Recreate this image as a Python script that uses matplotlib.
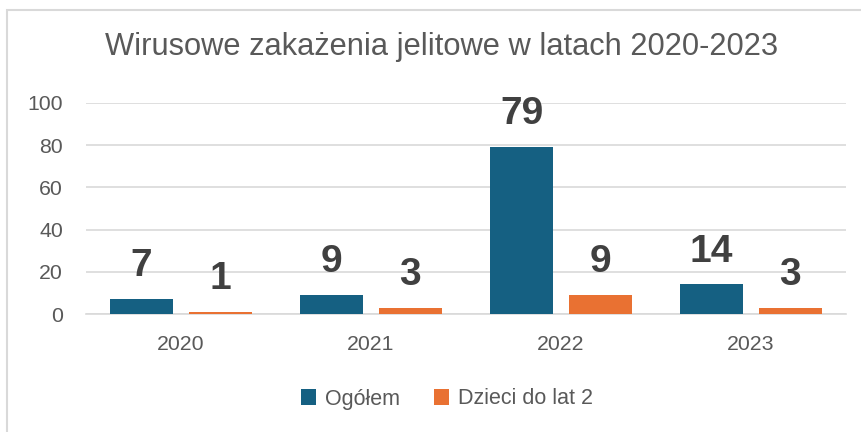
import numpy as np
import matplotlib.pyplot as plt
from matplotlib.patches import Rectangle

years = ['2020', '2021', '2022', '2023']
ogolem = [7, 9, 79, 14]
dzieci = [1, 3, 9, 3]
series_names = ['Ogółem', 'Dzieci do lat 2']

plt.rcParams['font.family'] = ['Liberation Sans', 'DejaVu Sans']

fig = plt.figure(figsize=(8.61, 4.32), dpi=100)
ax = fig.add_axes([86 / 861, 1 - 314 / 432, 760 / 861, 211 / 432])

x = np.arange(len(years))
w = 0.33
off = 0.207
b1 = ax.bar(x - off, ogolem, w, color='#156082', label=series_names[0], zorder=3)
b2 = ax.bar(x + off, dzieci, w, color='#E97132', label=series_names[1], zorder=3)

# value labels above bars
for bars, vals in [(b1, ogolem), (b2, dzieci)]:
    for r, v in zip(bars, vals):
        ax.annotate(str(v), (r.get_x() + r.get_width() / 2, v),
                    xytext=(0, 16.5), textcoords='offset points',
                    ha='center', va='baseline', fontsize=28,
                    fontweight='bold', color='#404040')

ax.set_xlim(-0.5, 3.5)
ax.set_ylim(0, 100)
ax.set_yticks(range(0, 101, 20))
ax.set_xticks(x)
ax.set_xticklabels(years)
ax.tick_params(axis='both', length=0, labelsize=15.3, colors='#595959')
ax.tick_params(axis='y', pad=16.5)
ax.tick_params(axis='x', pad=15)
ax.grid(axis='y', color='#d9d9d9', linewidth=1.2, zorder=0)
for s in ['top', 'right', 'left']:
    ax.spines[s].set_visible(False)
ax.spines['bottom'].set_color('#d9d9d9')
ax.spines['bottom'].set_linewidth(1.2)

fig.text(442 / 861, 1 - 47 / 432, 'Wirusowe zakażenia jelitowe w latach 2020-2023',
         ha='center', va='center', fontsize=22.2, color='#595959')

fig.legend(loc='center', bbox_to_anchor=(447 / 861, 1 - 399 / 432), ncol=2,
           frameon=False, fontsize=15.5, handlelength=0.7, handleheight=0.7,
           handletextpad=0.4, columnspacing=1.6, labelcolor='#595959')

fig.patches.append(Rectangle((7 / 861, -0.2), 2, 1.2 - 10 / 432, transform=fig.transFigure,
                             fill=False, edgecolor='#d9d9d9', linewidth=1.5))

fig.savefig('out.png', dpi=100)
